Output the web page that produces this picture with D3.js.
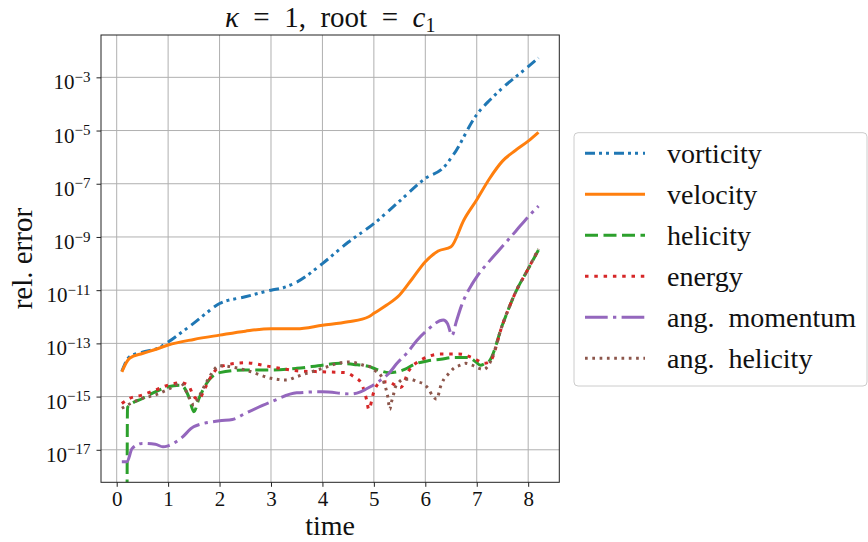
<!DOCTYPE html>
<html>
<head>
<meta charset="utf-8">
<script src="https://cdn.jsdelivr.net/npm/d3@7"></script>
<style>
  body { margin: 0; background: #fff; }
  svg { display: block; font-family: "Liberation Serif", "Times New Roman", serif; }
  svg text { font-family: "Liberation Serif", "Times New Roman", serif; }
</style>
</head>
<body>
<div id="chart"></div>
<script>
////////////////////////////////////////////////////////////////////
////////////////////////////  Data  ////////////////////////////////
const xTicks = [0, 1, 2, 3, 4, 5, 6, 7, 8];
const yTicks = [1e-17, 1e-15, 1e-13, 1e-11, 1e-9, 1e-7, 1e-5, 1e-3];

const seriesNames = ["vorticity", "velocity", "helicity", "energy", "ang. momentum", "ang. helicity"];

const vorticityT = [0.1, 0.25, 0.5, 0.8, 1.0, 1.25, 1.5, 1.75, 2.0, 2.5, 3.0, 3.25, 3.5, 4.0, 4.5, 5.0, 5.5, 6.0, 6.35, 6.55, 7.0, 7.25, 7.5, 8.0, 8.2];
const vorticityV = [8.91e-15, 3.16e-14, 4.68e-14, 6.61e-14, 1.12e-13, 2.51e-13, 5.75e-13, 1.41e-12, 3.16e-12, 5.62e-12, 1e-11, 1.26e-11, 2.0e-11, 1e-10, 6.31e-10, 3.16e-9, 2.24e-8, 1.58e-7, 3.98e-7, 1.26e-6, 3.98e-5, 1.38e-4, 3.98e-4, 2.51e-3, 5.37e-3];

const velocityT = [0.1, 0.25, 0.5, 0.75, 1.0, 1.5, 2.0, 2.5, 3.0, 3.5, 4.0, 4.5, 4.9, 5.0, 5.25, 5.5, 5.75, 6.0, 6.25, 6.5, 6.75, 7.0, 7.25, 7.5, 7.75, 8.0, 8.2];
const velocityV = [8.51e-15, 2.75e-14, 4.17e-14, 5.89e-14, 8.71e-14, 1.41e-13, 2.04e-13, 2.88e-13, 3.55e-13, 3.55e-13, 4.79e-13, 6.46e-13, 1e-12, 1.35e-12, 2.75e-12, 6.61e-12, 2.75e-11, 1.17e-10, 2.95e-10, 4.27e-10, 4.37e-9, 2.51e-8, 1.58e-7, 7.08e-7, 1.78e-6, 3.98e-6, 8.51e-6];

const helicityT = [0.2, 0.21, 0.5, 0.75, 1.0, 1.25, 1.4, 1.5, 1.6, 1.75, 2.0, 2.5, 3.0, 3.5, 4.0, 4.35, 4.61, 4.87, 5.13, 5.29, 5.45, 5.61, 5.78, 6.04, 6.3, 6.55, 6.82, 6.98, 7.07, 7.17, 7.25, 7.5, 7.75, 8.0, 8.2];
const helicityV = [0, 3.98e-16, 8.51e-16, 1.51e-15, 2.34e-15, 2.69e-15, 1e-15, 2.69e-16, 8.51e-16, 3.16e-15, 7.94e-15, 1e-14, 1e-14, 1.15e-14, 1.51e-14, 1.78e-14, 1.62e-14, 1.41e-14, 9.33e-15, 7.94e-15, 8.51e-15, 1.07e-14, 1.62e-14, 2.19e-14, 2.51e-14, 2.95e-14, 2.95e-14, 2.04e-14, 1.51e-14, 1.78e-14, 2.24e-14, 5.01e-13, 7.94e-12, 6.31e-11, 3.24e-10];

const energyT = [0.1, 0.25, 0.5, 0.75, 1.0, 1.25, 1.4, 1.5, 1.6, 1.7, 1.85, 2.0, 2.5, 3.0, 3.5, 4.0, 4.45, 4.61, 4.75, 4.86, 4.9, 5.0, 5.1, 5.26, 5.52, 5.68, 5.94, 6.3, 6.65, 6.98, 7.14, 7.25, 7.5, 7.75, 8.0, 8.2];
const energyV = [5.5e-16, 8.51e-16, 1.15e-15, 1.74e-15, 2.69e-15, 3.31e-15, 2.51e-15, 1e-15, 7.94e-16, 1.78e-15, 6.31e-15, 1.32e-14, 1.86e-14, 1.32e-14, 9.33e-15, 8.51e-15, 7.94e-15, 5.62e-15, 3.31e-15, 7.41e-16, 3.31e-16, 1.51e-15, 3.16e-15, 3.63e-15, 2.19e-15, 9.33e-15, 2.51e-14, 3.98e-14, 3.98e-14, 2.51e-14, 1.78e-14, 2.0e-14, 5.01e-13, 7.94e-12, 6.31e-11, 3.39e-10];

const angMomentumT = [0.1, 0.2, 0.3, 0.5, 0.75, 0.9, 1.0, 1.25, 1.5, 2.0, 2.25, 2.5, 3.0, 3.5, 4.0, 4.55, 4.74, 4.93, 5.13, 5.29, 5.45, 5.65, 5.84, 6.04, 6.35, 6.43, 6.52, 6.6, 6.7, 6.8, 6.9, 7.0, 7.25, 7.5, 7.75, 8.0, 8.2];
const angMomentumV = [3.55e-18, 3.55e-18, 1.12e-17, 1.74e-17, 1.62e-17, 1.29e-17, 1.41e-17, 2.69e-17, 7.41e-17, 1.23e-16, 1.38e-16, 2.34e-16, 6.31e-16, 1.38e-15, 1.51e-15, 1.26e-15, 1.51e-15, 2.34e-15, 4.17e-15, 7.41e-15, 1.78e-14, 4.47e-14, 1.32e-13, 3.16e-13, 7.59e-13, 5.62e-13, 2.0e-13, 6.31e-13, 2.51e-12, 7.08e-12, 1.58e-11, 3.16e-11, 1.26e-10, 4.47e-10, 1.58e-9, 5.75e-9, 1.45e-8];

const angHelicityT = [0.1, 0.25, 0.5, 0.75, 1.0, 1.25, 1.4, 1.5, 1.6, 1.75, 2.0, 2.5, 3.0, 3.3, 3.5, 4.0, 4.35, 4.51, 4.68, 4.8, 4.93, 5.03, 5.13, 5.19, 5.24, 5.27, 5.31, 5.34, 5.38, 5.41, 5.48, 5.58, 5.71, 5.84, 5.97, 6.07, 6.13, 6.22, 6.3, 6.36, 6.46, 6.55, 6.68, 6.78, 6.91, 7.04, 7.14, 7.25, 7.5, 7.75, 8.0, 8.2];
const angHelicityV = [3.63e-16, 5.25e-16, 8.51e-16, 1.15e-15, 1.86e-15, 3.16e-15, 1e-15, 4.79e-16, 1e-15, 3.63e-15, 1.45e-14, 1e-14, 4.9e-15, 4.17e-15, 5.62e-15, 1.15e-14, 1.86e-14, 2.0e-14, 1.78e-14, 1.51e-14, 1.32e-14, 9.33e-15, 6.46e-15, 3.63e-15, 1.78e-15, 1e-15, 3.31e-16, 6.03e-16, 1.15e-15, 2.04e-15, 3.31e-15, 4.47e-15, 4.47e-15, 3.63e-15, 2.95e-15, 1.86e-15, 1.15e-15, 7.94e-16, 2.51e-15, 4.47e-15, 7.41e-15, 1.15e-14, 1.51e-14, 1.78e-14, 1.51e-14, 1.15e-14, 1.05e-14, 1.78e-14, 5.01e-13, 7.94e-12, 6.31e-11, 3.55e-10];

////////////////////////////////////////////////////////////////////
////////////////////////////  Init  ////////////////////////////////
const width = 868;
const height = 542;
const plot = { left: 101, right: 559.3, top: 35, bottom: 482.3 };
const serif = "Liberation Serif, Times New Roman, serif";

const colors = ["#1f77b4", "#ff7f0e", "#2ca02c", "#d62728", "#9467bd", "#8c564b"];
const dashes = ["10,4,3,4,3,5", null, "13,5.5", "3.5,5.8", "22.7,5.3,3.3,5.3", "2.7,4.6"];

const series = [
  { t: vorticityT, v: vorticityV },
  { t: velocityT, v: velocityV },
  { t: helicityT, v: helicityV },
  { t: energyT, v: energyV },
  { t: angMomentumT, v: angMomentumV },
  { t: angHelicityT, v: angHelicityV },
].map((s, i) => ({
  name: seriesNames[i],
  color: colors[i],
  dash: dashes[i],
  points: s.t.map((t, j) => [t, s.v[j]]),
}));

const svg = d3
  .select("#chart")
  .append("svg")
  .attr("width", width)
  .attr("height", height)
  .attr("font-family", serif);

svg.append("rect").attr("width", width).attr("height", height).attr("fill", "#fff");

// scales
const x = d3.scaleLinear().domain([-0.305, 8.605]).range([plot.left, plot.right]);
const y = d3.scaleLog().domain([6e-19, 3.9e-2]).range([plot.bottom, plot.top]);

// grid
svg
  .append("g")
  .selectAll("line")
  .data(xTicks)
  .enter()
  .append("line")
  .attr("x1", (d) => x(d))
  .attr("x2", (d) => x(d))
  .attr("y1", plot.top)
  .attr("y2", plot.bottom)
  .attr("stroke", "#b0b0b0")
  .attr("stroke-width", 1);

svg
  .append("g")
  .selectAll("line")
  .data(yTicks)
  .enter()
  .append("line")
  .attr("x1", plot.left)
  .attr("x2", plot.right)
  .attr("y1", (d) => y(d))
  .attr("y2", (d) => y(d))
  .attr("stroke", "#b0b0b0")
  .attr("stroke-width", 1);

// lines
svg
  .append("clipPath")
  .attr("id", "clip")
  .append("rect")
  .attr("x", plot.left)
  .attr("y", plot.top)
  .attr("width", plot.right - plot.left)
  .attr("height", plot.bottom - plot.top);

const line = d3
  .line()
  .curve(d3.curveMonotoneX)
  .x((d) => x(d[0]))
  .y((d) => y(d[1] > 0 ? d[1] : 1e-20)); // non-positive values clipped like matplotlib

svg
  .append("g")
  .attr("clip-path", "url(#clip)")
  .selectAll("path")
  .data(series)
  .enter()
  .append("path")
  .attr("d", (d) => line(d.points))
  .attr("fill", "none")
  .attr("stroke", (d) => d.color)
  .attr("stroke-width", 3)
  .attr("stroke-dasharray", (d) => d.dash);

// spines
svg
  .append("rect")
  .attr("x", plot.left)
  .attr("y", plot.top)
  .attr("width", plot.right - plot.left)
  .attr("height", plot.bottom - plot.top)
  .attr("fill", "none")
  .attr("stroke", "#222")
  .attr("stroke-width", 1);

// axes
const xAxis = svg
  .append("g")
  .attr("transform", `translate(0, ${plot.bottom})`)
  .call(d3.axisBottom(x).tickValues(xTicks).tickSize(4.5).tickPadding(4).tickFormat(d3.format("d")));

const yAxis = svg
  .append("g")
  .attr("transform", `translate(${plot.left}, 0)`)
  .call(d3.axisLeft(y).tickValues(yTicks).tickSize(4.5).tickPadding(6).tickFormat(() => ""));

[xAxis, yAxis].forEach((a) => {
  a.attr("font-family", serif);
  a.select(".domain").remove();
  a.selectAll(".tick line").attr("stroke", "#222");
  a.selectAll(".tick text").attr("font-size", 21).attr("fill", "#111");
});

yAxis.selectAll(".tick text").each(function (d) {
  const e = Math.round(Math.log10(d));
  const t = d3.select(this).attr("dy", "0.55em");
  t.append("tspan").text("10");
  t.append("tspan")
    .attr("dy", "-0.5em")
    .attr("font-size", 15)
    .text("\u2212" + Math.abs(e));
});

// labels
svg
  .append("text")
  .attr("x", (plot.left + plot.right) / 2)
  .attr("y", 535)
  .attr("text-anchor", "middle")
  .attr("font-size", 28)
  .attr("fill", "#111")
  .text("time");

svg
  .append("text")
  .attr("transform", `translate(32, ${(plot.top + plot.bottom) / 2}) rotate(-90)`)
  .attr("text-anchor", "middle")
  .attr("font-size", 29)
  .attr("fill", "#111")
  .text("rel. error");

// title
const title = svg
  .append("text")
  .attr("x", (plot.left + plot.right) / 2)
  .attr("y", 27)
  .attr("text-anchor", "middle")
  .attr("font-size", 29)
  .attr("fill", "#111")
  .style("white-space", "pre");
title.append("tspan").attr("font-style", "italic").text("\u03ba");
title.append("tspan").text("  =  1,  root  =  ");
title.append("tspan").attr("font-style", "italic").text("c");
title.append("tspan").attr("font-size", 20).attr("dy", 5).text("1");

// legend
const legend = svg.append("g");
legend
  .append("rect")
  .attr("x", 574)
  .attr("y", 132.7)
  .attr("width", 293)
  .attr("height", 253.3)
  .attr("rx", 4)
  .attr("fill", "#fff")
  .attr("fill-opacity", 0.8)
  .attr("stroke", "#cccccc")
  .attr("stroke-width", 1);

const rows = legend
  .selectAll("g")
  .data(series)
  .enter()
  .append("g")
  .attr("transform", (d, i) => `translate(0, ${153.3 + i * 41})`);

rows
  .append("line")
  .attr("x1", 585)
  .attr("x2", 645)
  .attr("stroke", (d) => d.color)
  .attr("stroke-width", 3)
  .attr("stroke-dasharray", (d) => d.dash);

rows
  .append("text")
  .attr("x", 667)
  .attr("y", 10)
  .attr("font-size", 28)
  .attr("fill", "#111")
  .style("white-space", "pre")
  .text((d) => d.name.replace(". ", ".  "));
</script>
</body>
</html>
